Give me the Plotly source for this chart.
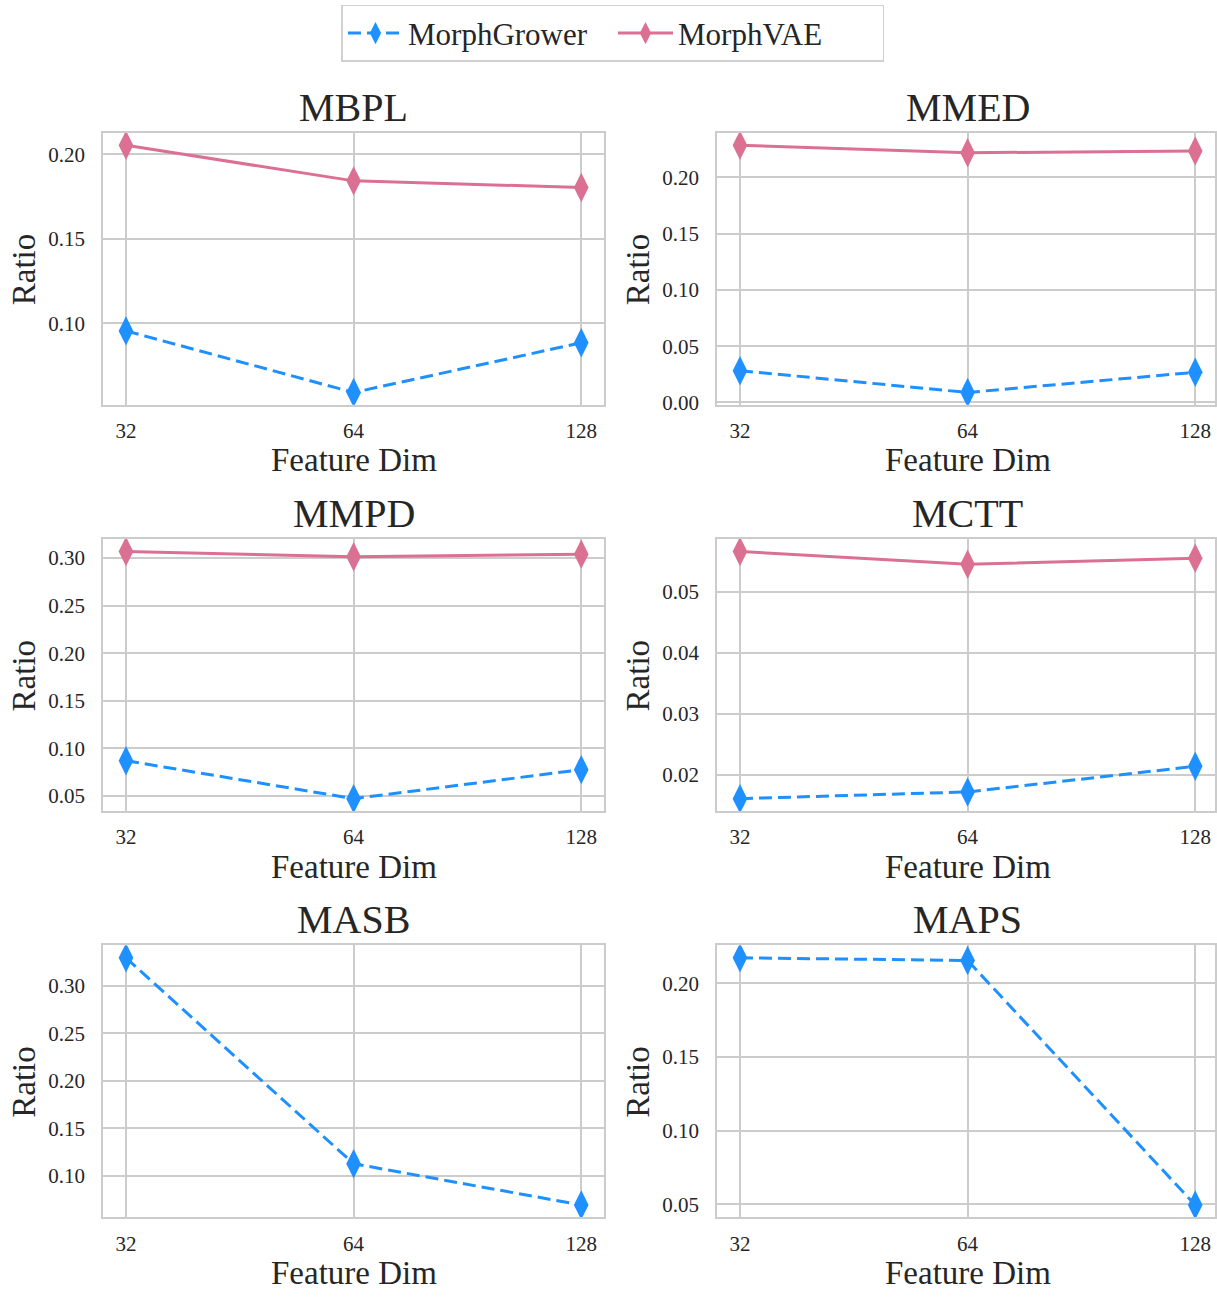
import plotly.graph_objects as go

# ---------------- data ----------------
dims = ["32", "64", "128"]
metrics = ["MBPL", "MMED", "MMPD", "MCTT", "MASB", "MAPS"]

grower_mbpl = [0.0956, 0.0592, 0.0886]
vae_mbpl = [0.2053, 0.1843, 0.1804]

grower_mmed = [0.0282, 0.0088, 0.0268]
vae_mmed = [0.2286, 0.2220, 0.2235]

grower_mmpd = [0.0871, 0.0472, 0.0777]
vae_mmpd = [0.3070, 0.3014, 0.3042]

grower_mctt = [0.0161, 0.0172, 0.0214]
vae_mctt = [0.0566, 0.0545, 0.0555]

grower_masb = [0.3296, 0.1125, 0.0690]
grower_maps = [0.2173, 0.2155, 0.0496]

series = {
    "MBPL": (grower_mbpl, vae_mbpl),
    "MMED": (grower_mmed, vae_mmed),
    "MMPD": (grower_mmpd, vae_mmpd),
    "MCTT": (grower_mctt, vae_mctt),
    "MASB": (grower_masb, None),
    "MAPS": (grower_maps, None),
}
dticks = {"MBPL": 0.05, "MMED": 0.05, "MMPD": 0.05, "MCTT": 0.01, "MASB": 0.05, "MAPS": 0.05}

# ---------------- style ----------------
W, H = 1217, 1299
FONT = "Liberation Serif"
TXT = "#262626"
GRID = "#cccccc"
BLUE = "#1e90ff"
PINK = "#db7093"

col_x0 = [103.4, 718.4]
plot_w = 501.6
unit_px = plot_w / 2.2
row_y0 = [134.0, 543.3, 952.8]
plot_h = 274.0


def px_x(x):
    return x / W


def px_y(y):
    return 1 - y / H


fig = go.Figure()
annotations = []

for i, m in enumerate(metrics):
    r, c = divmod(i, 2)
    ax = "" if i == 0 else str(i + 1)
    xa, ya = "x" + ax, "y" + ax
    g, v = series[m]
    show = i == 0
    fig.add_trace(go.Scatter(
        x=dims, y=g, name="MorphGrower", mode="lines+markers",
        line=dict(color=BLUE, width=3, dash="13px,6px"),
        marker=dict(symbol="diamond-tall", size=21, color=BLUE),
        xaxis=xa, yaxis=ya, showlegend=show, legendrank=1,
    ))
    vals = list(g)
    if v is not None:
        fig.add_trace(go.Scatter(
            x=dims, y=v, name="MorphVAE", mode="lines+markers",
            line=dict(color=PINK, width=3),
            marker=dict(symbol="diamond-tall", size=21, color=PINK),
            xaxis=xa, yaxis=ya, showlegend=show, legendrank=2,
        ))
        vals += list(v)
    lo, hi = min(vals), max(vals)
    pad = 0.05 * (hi - lo)

    x0 = col_x0[c]
    x1 = min(float(W), x0 + plot_w)
    y0 = row_y0[r]
    y1 = y0 + plot_h
    xdom = [px_x(x0), px_x(x1)]
    ydom = [px_y(y1), px_y(y0)]
    xr = [-0.1, (x1 - x0) / unit_px - 0.1]  # keep same px-per-category in cropped column

    common = dict(
        showline=True, mirror=True, linecolor=GRID, linewidth=2,
        showgrid=True, gridcolor=GRID, gridwidth=1.5, zeroline=False,
        tickfont=dict(family=FONT, size=21, color=TXT),
        ticks="outside", ticklen=0,
    )
    fig.layout["xaxis" + ax] = dict(
        domain=xdom, anchor=ya, type="category", range=xr,
        ticklabelstandoff=6, **common,
    )
    fig.layout["yaxis" + ax] = dict(
        domain=ydom, anchor=xa, range=[lo - pad, hi + pad],
        dtick=dticks[m], tick0=0, tickformat=".2f",
        ticklabelstandoff=12, **common,
    )

    cx = x0 + plot_w / 2
    annotations.append(dict(
        text=m, x=px_x(cx), y=px_y(y0 - 26), xref="paper", yref="paper",
        xanchor="center", yanchor="middle", showarrow=False,
        font=dict(family=FONT, size=40, color=TXT),
    ))
    annotations.append(dict(
        text="Feature Dim", x=px_x(cx), y=px_y(y1 + 56), xref="paper", yref="paper",
        xanchor="center", yanchor="middle", showarrow=False,
        font=dict(family=FONT, size=33, color=TXT),
    ))
    annotations.append(dict(
        text="Ratio", x=px_x(x0 - 79), y=px_y((y0 + y1) / 2), xref="paper", yref="paper",
        xanchor="center", yanchor="middle", showarrow=False, textangle=-90,
        font=dict(family=FONT, size=33, color=TXT),
    ))

fig.update_layout(
    width=W, height=H,
    margin=dict(l=0, r=0, t=0, b=0),
    paper_bgcolor="white", plot_bgcolor="white",
    annotations=annotations,
    showlegend=True,
    legend=dict(
        orientation="h", x=px_x(614), xanchor="center", y=px_y(5), yanchor="top",
        bordercolor="#d0d0d0", borderwidth=1.5, bgcolor="white",
        font=dict(family=FONT, size=31, color=TXT),
        itemwidth=55, entrywidth=200, traceorder="normal",
    ),
)

fig.write_html(
    "out.html",
    config={"displayModeBar": False},
    post_script="document.body.style.margin='0px';",
)
